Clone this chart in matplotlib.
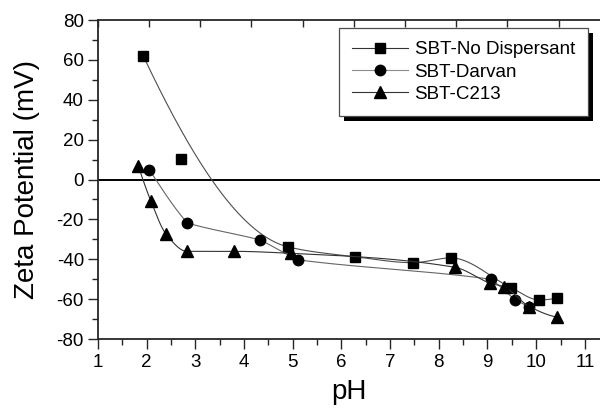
import numpy as np
import matplotlib
matplotlib.use('Agg')
import matplotlib.pyplot as plt
from matplotlib.ticker import MultipleLocator
from matplotlib.patches import Rectangle
from matplotlib.transforms import IdentityTransform

plt.rcParams['font.family'] = ['Liberation Sans', 'DejaVu Sans']
plt.rcParams['axes.unicode_minus'] = False

# SBT-No Dispersant
ph_nd = [1.93, 2.70, 4.91, 6.28, 7.47, 8.25, 9.49, 10.05, 10.43]
zeta_nd = [62.2, 10.5, -33.8, -38.7, -41.7, -39.3, -54.3, -60.3, -59.2]
# SBT-Darvan
ph_dv = [2.06, 2.84, 4.33, 5.12, 9.07, 9.57, 9.85]
zeta_dv = [4.8, -21.8, -30.3, -40.3, -50.0, -60.3, -63.7]
# SBT-C213
ph_c = [1.83, 2.09, 2.40, 2.83, 3.79, 4.97, 8.33, 9.06, 9.33, 9.86, 10.43]
zeta_c = [7.0, -10.8, -27.3, -36.0, -36.0, -37.0, -44.0, -52.0, -53.7, -63.7, -69.0]

labels = ['SBT-No Dispersant', 'SBT-Darvan', 'SBT-C213']


def pchip(x, y, tension=1.0, n=400):
    # monotone cubic through the points, for the smooth connecting line
    x = np.asarray(x, float)
    y = np.asarray(y, float)
    h = np.diff(x)
    d = np.diff(y) / h
    m = np.zeros_like(x)
    for k in range(1, len(x) - 1):
        if d[k-1] * d[k] > 0:
            w1 = 2*h[k] + h[k-1]
            w2 = h[k] + 2*h[k-1]
            m[k] = (w1 + w2) / (w1/d[k-1] + w2/d[k])
    def end(h0, h1, d0, d1):
        s = ((2*h0 + h1)*d0 - h0*d1) / (h0 + h1)
        if np.sign(s) != np.sign(d0):
            s = 0.
        elif np.sign(d0) != np.sign(d1) and abs(s) > abs(3*d0):
            s = 3*d0
        return s
    m[0] = end(h[0], h[1], d[0], d[1])
    m[-1] = end(h[-1], h[-2], d[-1], d[-2])
    xs = np.linspace(x[0], x[-1], n)
    idx = np.clip(np.searchsorted(x, xs) - 1, 0, len(x) - 2)
    t = (xs - x[idx]) / h[idx]
    h00 = 2*t**3 - 3*t**2 + 1
    h10 = t**3 - 2*t**2 + t
    h01 = -2*t**3 + 3*t**2
    h11 = t**3 - t**2
    ys = h00*y[idx] + h10*h[idx]*m[idx] + h01*y[idx+1] + h11*h[idx]*m[idx+1]
    if tension < 1.0:
        lin = np.interp(xs, x, y)
        ys = tension*ys + (1 - tension)*lin
    return xs, ys


fig = plt.figure(figsize=(6.0, 4.09), dpi=100)
ax = fig.add_axes([0.163, 0.171, 0.837, 0.780])

# curve for the no-dispersant set skips the point at pH 2.7
nd_x = [p for i, p in enumerate(ph_nd) if i != 1]
nd_y = [v for i, v in enumerate(zeta_nd) if i != 1]
xs, ys = pchip(nd_x, nd_y)
ax.plot(xs, ys, color='0.3', lw=0.8)
ax.plot(ph_nd, zeta_nd, 's', color='k', ms=6.5)
xs, ys = pchip(ph_dv, zeta_dv, tension=0.3)
ax.plot(xs, ys, color='0.4', lw=0.8)
ax.plot(ph_dv, zeta_dv, 'o', color='k', ms=7.5)
xs, ys = pchip(ph_c, zeta_c)
ax.plot(xs, ys, color='0.2', lw=0.8)
ax.plot(ph_c, zeta_c, '^', color='k', ms=8)

# legend proxies
h1, = ax.plot([], [], '-s', color='0.2', mfc='k', mec='k', ms=6.5, lw=0.8)
h2, = ax.plot([], [], '-o', color='0.55', mfc='k', mec='k', ms=7.5, lw=0.8)
h3, = ax.plot([], [], '-^', color='0.2', mfc='k', mec='k', ms=8, lw=0.8)

ax.axhline(0, color='k', lw=1.4, zorder=1)

ax.set_xlim(1, 11.31)
ax.set_ylim(-80, 80)
ax.xaxis.set_major_locator(MultipleLocator(1))
ax.xaxis.set_minor_locator(MultipleLocator(0.5))
ax.yaxis.set_major_locator(MultipleLocator(20))
ax.yaxis.set_minor_locator(MultipleLocator(10))
ax.tick_params(which='both', direction='out', top=False, right=False,
               labelsize=13.5, width=1, color='0.15')
ax.tick_params(which='major', length=7)
ax.tick_params(which='minor', length=4)
ax.tick_params(axis='y', pad=3)
ax.spines['right'].set_visible(False)
for s in ['left', 'bottom', 'top']:
    ax.spines[s].set_linewidth(1.3)
    ax.spines[s].set_color('0.15')

# top axis ticks
top = ax.twiny()
top.set_xlim(0, 502.3 / 51.2)
top.xaxis.set_major_locator(MultipleLocator(1))
top.tick_params(axis='x', direction='in', length=5, width=1, color='0.15',
                labeltop=False)
for s in top.spines.values():
    s.set_visible(False)

ax.set_xlabel('pH', fontsize=20, labelpad=6)
ax.set_ylabel('Zeta Potential (mV)', fontsize=20, labelpad=12)

leg = ax.legend([h1, h2, h3], labels, loc='upper right',
                bbox_to_anchor=(0.976, 0.975), borderaxespad=0,
                fontsize=13.5, fancybox=False,
                edgecolor='0.3', framealpha=1, handlelength=3.0,
                handletextpad=0.35, borderpad=0.7, labelspacing=0.28)
leg.get_frame().set_linewidth(0.9)
leg.set_zorder(6)

fig.canvas.draw()
bb = leg.get_window_extent()
ax.add_patch(Rectangle((bb.x0 + 5, bb.y0 - 5), bb.width, bb.height,
                       transform=IdentityTransform(), facecolor='k',
                       edgecolor='none', zorder=5.5, clip_on=False))

fig.savefig('out.png', dpi=100)
